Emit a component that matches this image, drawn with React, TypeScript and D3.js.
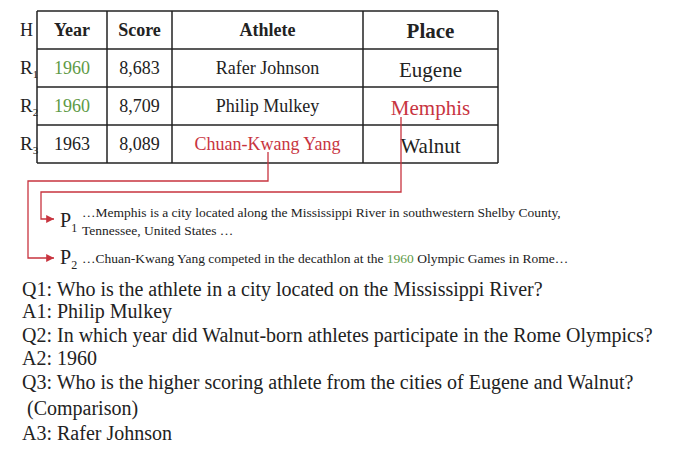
import React from 'react';
import * as d3 from 'd3';

const columns = ['Year', 'Score', 'Athlete', 'Place'];
const rowLabels = ['1', '2', '3'];
const years = ['1960', '1960', '1963'];
const scores = ['8,683', '8,709', '8,089'];
const athletes = ['Rafer Johnson', 'Philip Mulkey', 'Chuan-Kwang Yang'];
const places = ['Eugene', 'Memphis', 'Walnut'];
const questions = [
  'Q1: Who is the athlete in a city located on the Mississippi River?',
  'A1: Philip Mulkey',
  'Q2: In which year did Walnut-born athletes participate in the Rome Olympics?',
  'A2: 1960',
  'Q3: Who is the higher scoring athlete from the cities of Eugene and Walnut?',
  '\u00a0(Comparison)',
  'A3: Rafer Johnson',
];

const GREEN = '#5e9a45';
const RED = '#c8343f';
const FONT = "'Liberation Serif', 'DejaVu Serif', serif";

const App = () => {
  const colEdges = [37, 107, 172, 363, 498];
  const y = d3.scaleBand().domain(['H', ...rowLabels]).range([11, 163]).paddingInner(0);
  const bw = y.bandwidth();
  const cx = (i: number) => (colEdges[i] + colEdges[i + 1]) / 2;
  const line = d3.line();
  const cells = rowLabels.map((_, r) => [
    { t: years[r], c: r < 2 ? GREEN : '#222', s: 18 },
    { t: scores[r], c: '#222', s: 18 },
    { t: athletes[r], c: r === 2 ? RED : '#222', s: 18 },
    { t: places[r], c: r === 1 ? RED : '#222', s: 21 },
  ]);
  const path1 = line([[401, 117], [401, 192], [41, 192], [41, 219], [54, 219]]);
  const path2 = line([[268, 152], [268, 181], [28, 181], [28, 258], [54, 258]]);
  return (
    <svg width={698} height={454} style={{ position: 'absolute', left: 0, top: 0, background: '#fff', fontFamily: FONT }}>
      <defs>
        <marker id="ah" viewBox="0 0 10 10" refX="10" refY="5" markerWidth="6" markerHeight="6" orient="auto">
          <path d="M0,0L10,5L0,10Z" fill={RED} />
        </marker>
      </defs>
      {/* table grid */}
      {y.domain().map((d) => (
        <line key={'h' + d} x1={37} x2={498} y1={y(d)} y2={y(d)} stroke="#222" strokeWidth={1.5} />
      ))}
      <line x1={37} x2={498} y1={163} y2={163} stroke="#222" strokeWidth={1.5} />
      {colEdges.map((x) => (
        <line key={'v' + x} x1={x} x2={x} y1={11} y2={163} stroke="#222" strokeWidth={1.5} />
      ))}
      {/* header */}
      <text x={20} y={y('H')! + bw / 2 + 6} fontSize={18} fill="#222">H</text>
      {columns.map((c, i) => (
        <text key={c} x={cx(i)} y={y('H')! + bw / 2 + (i === 3 ? 8 : 6)} textAnchor="middle" fontWeight="bold"
          fontSize={i === 3 ? 21 : 18} fill="#222">{c}</text>
      ))}
      {/* rows */}
      {rowLabels.map((r, ri) => (
        <g key={r}>
          <text x={20} y={y(r)! + bw / 2 + 6} fontSize={19} fill="#222">
            R<tspan fontSize={11} dy={4}>{r}</tspan>
          </text>
          {cells[ri].map((cell, ci) => (
            <text key={ci} x={cx(ci)} y={y(r)! + bw / 2 + (ci === 3 ? 9 : 6)} textAnchor="middle"
              fontSize={cell.s} fill={cell.c}>{cell.t}</text>
          ))}
        </g>
      ))}
      {/* links */}
      <path d={path2!} fill="none" stroke={RED} strokeWidth={1.3} markerEnd="url(#ah)" />
      <path d={path1!} fill="none" stroke={RED} strokeWidth={1.3} markerEnd="url(#ah)" />
      <text x={60} y={227} fontSize={20} fill="#222">P<tspan fontSize={12} dy={5}>1</tspan></text>
      <text x={82} y={217} fontSize={13.5} fill="#222">…Memphis is a city located along the Mississippi River in southwestern Shelby County,</text>
      <text x={82} y={235} fontSize={13.5} fill="#222">Tennessee, United States …</text>
      <text x={60} y={264} fontSize={20} fill="#222">P<tspan fontSize={12} dy={5}>2</tspan></text>
      <text x={82} y={263} fontSize={13.5} fill="#222">
        …Chuan-Kwang Yang competed in the decathlon at the <tspan fill={GREEN}>1960</tspan> Olympic Games in Rome…
      </text>
      {/* QA */}
      {questions.map((q, i) => (
        <text key={i} x={22} y={[296, 318, 342, 365, 389, 415, 440][i]} fontSize={20} fill="#222" xmlSpace="preserve">{q}</text>
      ))}
    </svg>
  );
};

export default App;
